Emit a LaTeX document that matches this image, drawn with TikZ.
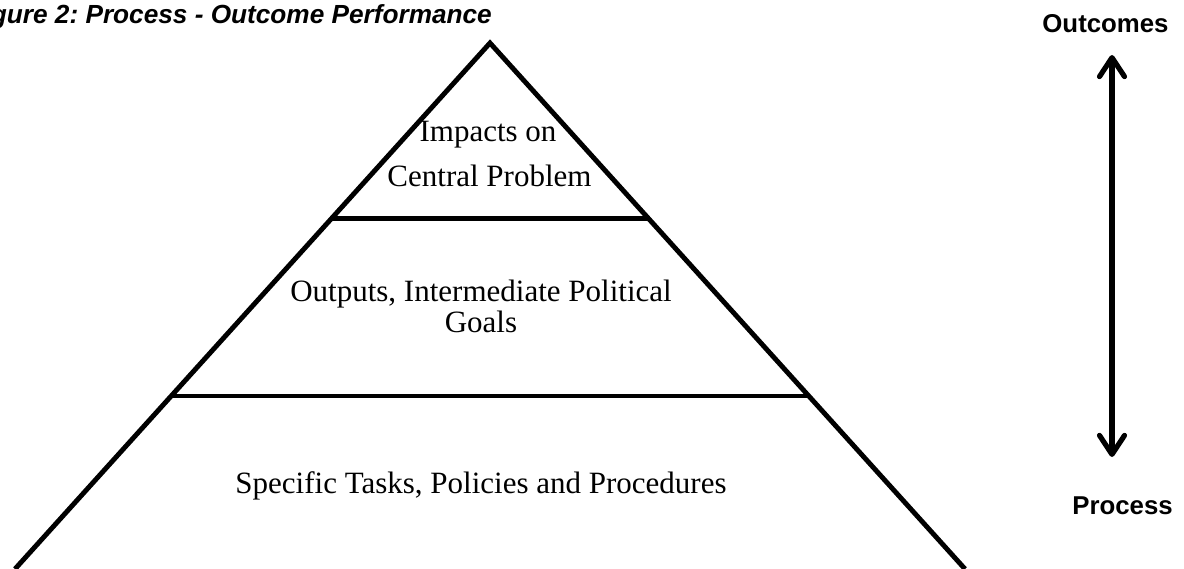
\documentclass[tikz,border=0pt]{standalone}
\usepackage{fontspec}
\setmainfont{Liberation Serif}
\setsansfont{Liberation Sans}
\usetikzlibrary{calc,arrows.meta}
\frenchspacing

\tikzset{
  edge/.style={line width=4.9pt, line join=miter},
  layertext/.style={font=\fontsize{31}{31}\selectfont, anchor=base, inner sep=0pt},
  sidelabel/.style={font=\sffamily\bfseries\fontsize{25.8}{26}\selectfont, anchor=base, inner sep=0pt},
  titletext/.style={font=\sffamily\bfseries\itshape\fontsize{26.2}{27}\selectfont, anchor=base east, inner sep=0pt},
  barb/.tip={Straight Barb[length=19pt, width=25pt, line cap=round, line join=round]},
  scalearrow/.style={line width=5.2pt, barb-barb}
}

\begin{document}
\begin{tikzpicture}[x=1pt, y=-1pt]
  \useasboundingbox (0,0) rectangle (1184,569);

  % pyramid outline
  \coordinate (apex) at (490,43);
  \coordinate (bl) at (15,569);
  \coordinate (br) at (965,569);
  \draw[edge] (bl) -- (apex) -- (br);

  % layer dividers
  \coordinate (l1a) at ($(apex)!0.3337!(bl)$);
  \coordinate (l1b) at ($(apex)!0.3337!(br)$);
  \coordinate (l2a) at ($(apex)!0.6711!(bl)$);
  \coordinate (l2b) at ($(apex)!0.6711!(br)$);
  \draw[edge] (l1a) -- (l1b);
  \draw[edge] (l2a) -- (l2b);

  % layer labels
  \node[layertext] (imp1) at (488,141.7) {Impacts on};
  \node[layertext] (imp2) at (489.5,186.5) {Central Problem};
  \node[layertext] (out1) at (481,302) {Outputs, Intermediate Political};
  \node[layertext] (out2) at (481,333) {Goals};
  \node[layertext] (tasks) at (481,493) {Specific Tasks, Policies and Procedures};

  % title
  \node[titletext] (title) at (492,24) {Figure 2: Process - Outcome Performance};

  % process--outcome scale
  \node[sidelabel] (outcomes) at (1105.5,33) {Outcomes};
  \node[sidelabel] (process) at (1122.5,514) {Process};
  \coordinate (up) at (1112,55);
  \coordinate (down) at (1112,457);
  \draw[scalearrow] (up) -- (down);
\end{tikzpicture}
\end{document}
